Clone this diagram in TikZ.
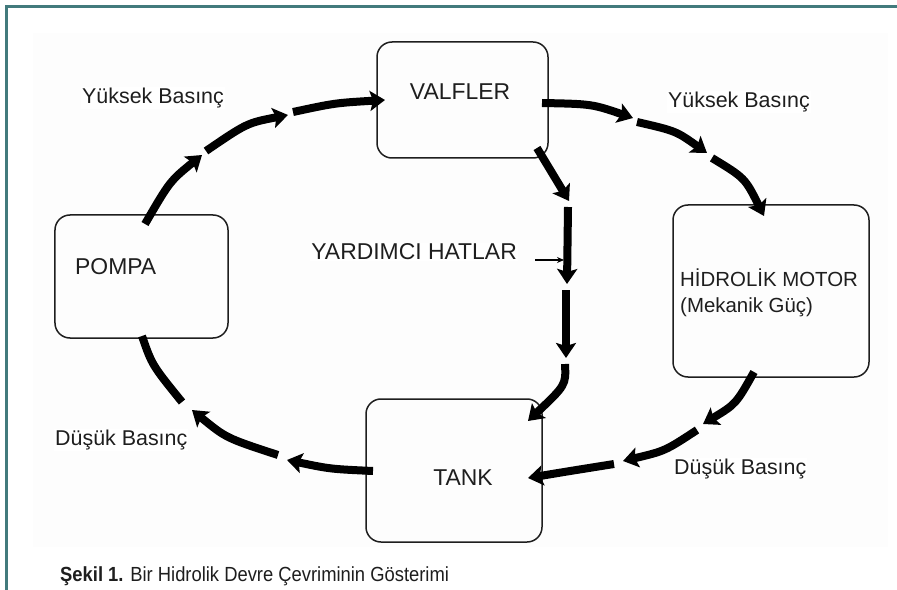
\documentclass[tikz,border=0pt]{standalone}
\usepackage{fontspec}
\setmainfont{Liberation Sans}
\newfontfamily\capfont[FakeStretch=0.9]{Liberation Sans}
\usetikzlibrary{arrows.meta}
\definecolor{framecol}{RGB}{66,122,124}
\definecolor{ink}{RGB}{30,30,30}
\definecolor{paper}{RGB}{253,253,253}
\begin{document}
\begin{tikzpicture}[x=1bp,y=-1bp,
  box/.style={draw=ink, line width=1.5bp, rounded corners=15bp, inner sep=0pt},
  lbl/.style={font=\fontsize{21.5}{25}\selectfont, text=ink, inner sep=1pt, fill=white},
  boxlbl/.style={font=\fontsize{23}{27}\selectfont, text=ink, inner sep=1pt},
  flow/.style={line width=8bp, draw=black, -{Stealth[length=15bp,width=20bp,inset=3bp]}},
  flowend/.style={line width=8bp, draw=black},
  thin/.style={line width=1.2bp, draw=black, -{Stealth[length=7bp,width=6bp]}}
]
\useasboundingbox (0,0) rectangle (897,590);
\fill[white] (0,0) rectangle (897,590);
\fill[paper] (33,33) rectangle (888,547);
% frame
\draw[framecol, line width=3.5bp] (6.5,590) -- (6.5,6.5) -- (897,6.5);

% boxes
\node[box, minimum width=171bp, minimum height=116bp] (valf) at (462.5,100) {};
\node[box, minimum width=173bp, minimum height=123bp] (pompa) at (141.5,276.5) {};
\node[box, minimum width=196bp, minimum height=172bp] (motor) at (771,291) {};
\node[box, minimum width=176bp, minimum height=143bp] (tank) at (454,470.5) {};

% box texts
\node[boxlbl] (tvalf) at (460,92) {VALFLER};
\node[boxlbl, anchor=west] (tpompa) at (74,267) {POMPA};
\node[boxlbl] (ttank) at (463,478) {TANK};
\node[font=\fontsize{20.5}{24}\selectfont, text=ink, inner sep=0pt, anchor=west] (tmotor1) at (680,278) {HİDROLİK MOTOR};
\node[font=\fontsize{20.5}{24}\selectfont, text=ink, inner sep=0pt, anchor=west] (tmotor2) at (680,307) {(Mekanik Güç)};

% labels
\node[lbl, anchor=west] (yb1) at (81,98) {Yüksek Basınç};
\node[lbl, anchor=west] (yb2) at (667,102) {Yüksek Basınç};
\node[lbl, anchor=west] (db1) at (54,440) {Düşük Basınç};
\node[lbl, anchor=west] (db2) at (673,469) {Düşük Basınç};
\node[boxlbl, anchor=east, fill=white] (yard) at (518,252) {YARDIMCI HATLAR};
\node[font=\capfont\fontsize{20.5}{24}\selectfont, text=ink, inner sep=0pt, anchor=base west] (cap) at (60,581) {\textbf{Şekil 1.} Bir Hidrolik Devre Çevriminin Gösterimi};

% coordinates of the flow segments
\coordinate (a1) at (145,224); \coordinate (a2) at (202,155);
\coordinate (a3) at (206,151); \coordinate (a4) at (288,115);
\coordinate (a5) at (293,112); \coordinate (a6) at (385,100);
\coordinate (b1) at (542,103); \coordinate (b2) at (633,118);
\coordinate (b3) at (637,122); \coordinate (b4) at (707,153);
\coordinate (b5) at (712,158); \coordinate (b6) at (764,216);
\coordinate (c1) at (754,372); \coordinate (c2) at (703,424);
\coordinate (c3) at (697,430); \coordinate (c4) at (623,461);
\coordinate (c5) at (614,464); \coordinate (c6) at (528,478);
\coordinate (d1) at (373,471); \coordinate (d2) at (287,460);
\coordinate (d3) at (278,455); \coordinate (d4) at (192,410);
\coordinate (d5) at (182,402); \coordinate (d6) at (142,336);
\coordinate (e1) at (537,148); \coordinate (e2) at (569,201);
\coordinate (e3) at (568,207); \coordinate (e4) at (567,284);
\coordinate (e5) at (566,290); \coordinate (e6) at (566,358);
\coordinate (e7) at (565,364); \coordinate (e8) at (528,421);
\coordinate (f1) at (535,260); \coordinate (f2) at (564,260);

% pump -> valves (high pressure)
\draw[flow] (a1) .. controls (170,181) .. (a2);
\draw[flow] (a3) .. controls (247,123) .. (a4);
\draw[flow] (a5) .. controls (335,103) .. (a6);
% valves -> motor
\draw[flow] (b1) .. controls (592,104) .. (b2);
\draw[flow] (b3) .. controls (676,131) .. (b4);
\draw[flow] (b5) .. controls (745,178) .. (b6);
% motor -> tank
\draw[flow] (c1) .. controls (736,404) .. (c2);
\draw[flow] (c3) .. controls (665,451) .. (c4);
\draw[flow] (c5) .. controls (570,471) .. (c6);
% tank -> pump
\draw[flow] (d1) .. controls (330,469) .. (d2);
\draw[flow] (d3) .. controls (226,438) .. (d4);
\draw[flowend] (d5) .. controls (152,365) .. (d6);
% auxiliary lines
\draw[flow] (e1) -- (e2);
\draw[flow] (e3) -- (e4);
\draw[flow] (e5) -- (e6);
\draw[flow] (e7) .. controls (566,385) .. (e8);
\draw[thin] (f1) -- (f2);
\end{tikzpicture}
\end{document}
